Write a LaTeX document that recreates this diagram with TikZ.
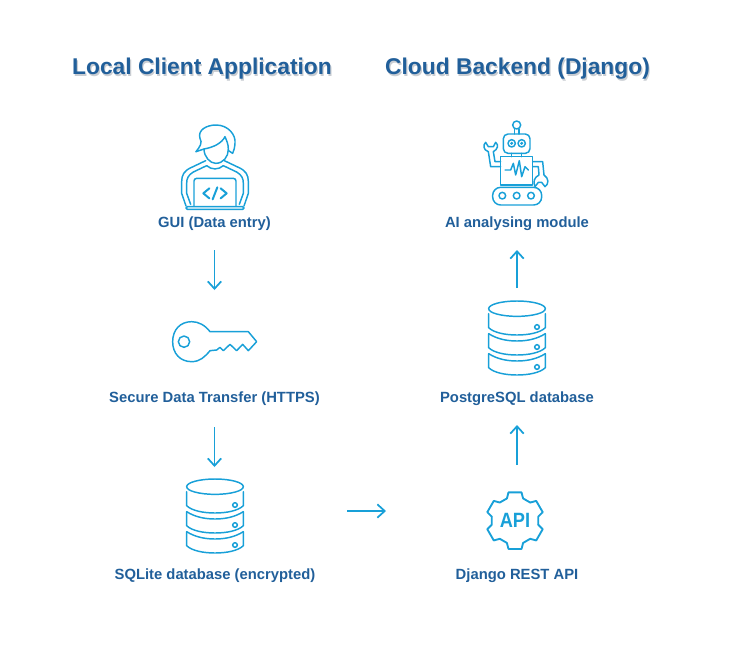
\documentclass[tikz,border=0pt]{standalone}
\usepackage{fontspec}
\usetikzlibrary{arrows.meta}
\setmainfont{Liberation Sans}
\definecolor{iconblue}{HTML}{18A0D8}
\definecolor{textblue}{HTML}{215F9A}
\definecolor{titleshade}{HTML}{C9CDD2}
\tikzset{
    iconline/.style={draw=iconblue, line width=1.1pt, line join=round, line cap=round, x=.25pt, y=-.25pt},
    flow/.style={draw=iconblue, line width=1.3pt, -{Straight Barb[length=5.5pt,width=10pt]}},
    title/.style={text=textblue, font=\bfseries\fontsize{17.1}{20}\selectfont, inner sep=0pt},
    titleshadow/.style={text=titleshade, font=\bfseries\fontsize{17.1}{20}\selectfont, inner sep=0pt},
    caption/.style={text=textblue, font=\bfseries\fontsize{11.1}{13}\selectfont, inner sep=2pt},
    dbicon/.pic={
        \draw[iconline] (135,50) ellipse [x radius=85, y radius=23];
        \foreach \top in {65,125,185} {
            \draw[iconline] (50,\top) -- (50,\top+42) .. controls (65,\top+57) and (100,\top+64) .. (135,\top+64)
                .. controls (170,\top+64) and (205,\top+57) .. (220,\top+42) -- (220,\top);
            \draw[iconline] (195,\top+40) circle [radius=7];
        }
        \foreach \top in {125,185} {
            \draw[iconline] (50,\top) .. controls (75,\top+16) and (105,\top+22) .. (135,\top+22)
                .. controls (165,\top+22) and (195,\top+16) .. (220,\top);
        }
    },
    keyicon/.pic={
        \draw[iconline] (150,65) .. controls (135,45) and (115,35) .. (95,35) .. controls (60,35) and (38,60) .. (38,95)
            .. controls (38,130) and (60,155) .. (95,155) .. controls (120,155) and (135,140) .. (150,122)
            -- (170,120) -- (180,112) -- (190,122) -- (210,103) -- (230,122) -- (248,103) -- (265,122) -- (290,95) -- (265,65) -- cycle;
        \draw[iconline] (72,95) circle [radius=17];
    },
    apiicon/.pic={
        \foreach \a in {30,90,...,330} {
            \draw[iconline, line width=1.4pt, shift={(120,122)}] (\a-20:71) -- (\a-13:87) -- (\a+13:87) -- (\a+20:71) -- (\a+40:71);
        }
        \node[text=iconblue, font=\bfseries\fontsize{15.5}{16}\selectfont, inner sep=0pt, xscale=.88, transform shape] (apitext) at (120*.25pt,-121*.25pt) {API};
    },
    personicon/.pic={
        \draw[iconline] (108,125) .. controls (120,110) and (128,98) .. (120,85) .. controls (112,60) and (140,45) .. (168,45)
            .. controls (205,45) and (228,75) .. (225,100) .. controls (224,112) and (222,122) .. (218,130) -- (206,122);
        \draw[iconline] (108,125) -- (132,117) .. controls (160,112) and (185,100) .. (195,80) .. controls (200,92) and (205,102) .. (205,118);
        \draw[iconline] (132,117) .. controls (132,140) and (150,160) .. (167,160) .. controls (190,160) and (205,140) .. (205,118);
        \draw[iconline] (137,152) -- (95,172) .. controls (72,182) and (65,195) .. (65,215) -- (65,250) -- (78,288);
        \draw[iconline] (193,152) -- (235,172) .. controls (258,182) and (265,195) .. (265,215) -- (265,250) -- (252,288);
        \draw[iconline] (140,167) -- (100,186) .. controls (85,195) and (80,205) .. (80,220) -- (80,250) -- (92,283);
        \draw[iconline] (190,167) -- (230,186) .. controls (245,195) and (250,205) .. (250,220) -- (250,250) -- (238,283);
        \draw[iconline] (140,167) .. controls (155,180) and (175,180) .. (190,167);
        \draw[iconline, rounded corners=2pt] (102,288) -- (102,205) -- (228,205) -- (228,288);
        \draw[iconline, rounded corners=1pt] (78,290) rectangle (252,298);
        \draw[iconline, line width=1.5pt] (148,235) -- (130,250) -- (148,265) (182,235) -- (200,250) -- (182,265) (172,232) -- (158,268);
    },
    roboticon/.pic={
        \draw[iconline] (134,57) -- (134,72) (147,57) -- (147,72);
        \draw[iconline] (140,45) circle [radius=12];
        \draw[iconline, rounded corners=3.5pt] (100,72) rectangle (180,130);
        \foreach \eye in {125,155} {
            \draw[iconline] (\eye,100) circle [radius=11];
            \fill[iconblue] (\eye*.25pt,-100*.25pt) circle [radius=1.3pt];
        }
        \draw[iconline] (125,130) -- (125,140) (155,130) -- (155,140);
        \draw[iconline] (92,140) rectangle (188,225);
        \draw[iconline] (105,180) -- (122,180) -- (130,160) -- (137,195) -- (148,152) -- (155,200) -- (165,170) -- (175,180);
        \draw[iconline] (92,155) -- (75,155) -- (70,125) .. controls (83,118) and (87,105) .. (77,97) -- (70,110) -- (55,110) -- (47,97)
            .. controls (38,105) and (40,120) .. (55,125) -- (62,170) -- (92,170);
        \draw[iconline] (188,155) -- (218,155) -- (222,195) .. controls (237,205) and (237,222) .. (225,230) -- (215,217) -- (205,217) -- (195,230)
            .. controls (188,215) and (193,202) .. (207,195) -- (205,170) -- (188,170);
        \draw[iconline, rounded corners=6pt] (68,232) rectangle (215,285);
        \foreach \wheel in {97,140,183} {
            \draw[iconline] (\wheel,257) circle [radius=10];
        }
    }
}
\begin{document}
\begin{tikzpicture}[x=.75pt, y=-.75pt]
    \useasboundingbox (0,0) rectangle (732,658);

    % headings
    \node[titleshadow] (localshadow) at (203.2,70.2) {Local Client Application};
    \node[titleshadow] (cloudshadow) at (518.7,70.2) {Cloud Backend (Django)};
    \node[title] (localtitle) at (202,69) {Local Client Application};
    \node[title] (cloudtitle) at (517.5,69) {Cloud Backend (Django)};

    % captions
    \node[caption] (guilabel) at (214.5,224) {GUI (Data entry)};
    \node[caption] (securelabel) at (214.5,399) {Secure Data Transfer (HTTPS)};
    \node[caption] (sqlitelabel) at (215,576) {SQLite database (encrypted)};
    \node[caption] (ailabel) at (517,224) {AI analysing module};
    \node[caption] (postgreslabel) at (517,399) {PostgreSQL database};
    \node[caption] (apilabel) at (517,576) {Django REST API};

    % icons
    \pic at (160,110) {personicon};
    \pic at (160,310) {keyicon};
    \pic at (170,470) {dbicon};
    \pic at (470,110) {roboticon};
    \pic at (472,292) {dbicon};
    \pic at (475,480) {apiicon};

    % arrow ends next to the icons
    \coordinate (guibottom) at (214.5,250);
    \coordinate (keytop) at (214.5,290);
    \coordinate (securebottom) at (214.5,427);
    \coordinate (sqlitetop) at (214.5,467);
    \coordinate (sqliteright) at (347,511);
    \coordinate (apileft) at (386,511);
    \coordinate (apitop) at (517,465);
    \coordinate (postgresbottom) at (517,425);
    \coordinate (postgrestop) at (517,288);
    \coordinate (aibottom) at (517,250);

    \draw[flow] (guibottom) -- (keytop);
    \draw[flow] (securebottom) -- (sqlitetop);
    \draw[flow] (sqliteright) -- (apileft);
    \draw[flow] (apitop) -- (postgresbottom);
    \draw[flow] (postgrestop) -- (aibottom);
\end{tikzpicture}
\end{document}
